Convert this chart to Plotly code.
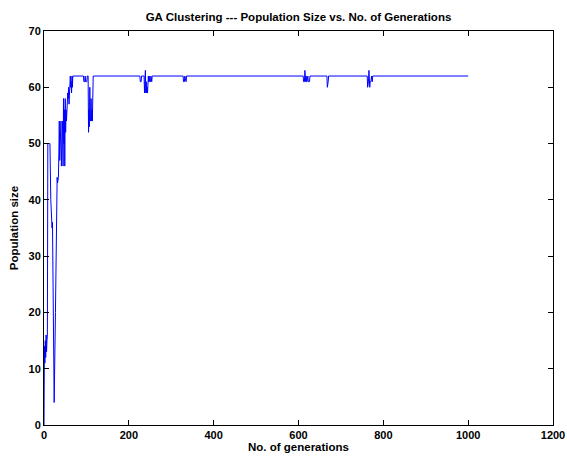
import plotly.graph_objects as go

# Key points of the population-size trace (generation, size)
generations = [
    0, 1, 2, 3, 4, 5, 6, 7, 8, 9, 12, 14, 16, 17, 18, 19, 20, 21, 22, 24, 27, 29, 31,
    32, 33, 34, 35, 36, 37, 38, 39, 40, 41, 42, 43, 44, 45, 46, 47, 48, 49, 50,
    51, 52, 53, 54, 55, 56, 57, 58, 59, 60, 61, 62, 63, 64, 65, 66, 67, 68, 70,
    93, 94, 96, 97, 98, 101, 102, 104, 105, 106, 107, 108, 109, 110, 111, 112,
    113, 114, 116, 118,
    226, 227, 229, 230, 236, 237, 239, 240, 241, 242, 243, 244, 246, 247, 248,
    249, 251, 252, 254, 255,
    328, 329, 331, 332, 335, 336,
    611, 612, 614, 615, 617, 618, 619, 620, 622, 623, 626, 627,
    667, 668, 670, 671,
    762, 763, 765, 766, 768, 769, 771, 772, 774, 775,
    1000,
]
pop_size = [
    0, 14, 11, 15, 12, 16, 13, 15, 16, 50, 50, 50, 40, 37, 38, 35, 36, 24, 21, 4, 20, 35, 44,
    43, 44, 44, 48, 54, 47, 52, 50, 54, 46, 52, 50, 54, 46, 58, 50, 56, 46, 58,
    52, 56, 54, 58, 56, 59, 58, 60, 57, 61, 59, 62, 60, 61, 59, 62, 60, 62, 62,
    62, 61, 61, 62, 61, 61, 62, 62, 52, 56, 53, 60, 55, 54, 58, 54,
    56, 54, 62, 62,
    62, 61, 61, 62, 62, 59, 63, 59, 61, 59, 60, 59, 62, 61, 62,
    61, 61, 62, 61, 62,
    62, 61, 61, 62, 61, 62,
    62, 61, 61, 63, 61, 62, 61, 61, 62, 61, 61, 62,
    62, 60, 61, 62,
    62, 60, 61, 63, 60, 61, 61, 62, 61, 62,
    62,
]
assert len(generations) == len(pop_size)

x_ticks = [0, 200, 400, 600, 800, 1000, 1200]
y_ticks = [0, 10, 20, 30, 40, 50, 60, 70]

font_family = "Liberation Sans, Arial, sans-serif"
bold_font = dict(family=font_family, size=11, color="black", weight="bold")
title_font = dict(family=font_family, size=11.5, color="black", weight="bold")

fig = go.Figure()
fig.add_trace(go.Scatter(
    x=generations, y=pop_size, mode="lines",
    line=dict(color="#0000FF", width=1),
    showlegend=False,
))

axis_common = dict(
    showline=True, linecolor="black", linewidth=1, mirror="allticks",
    ticks="inside", ticklen=5, tickcolor="black", tickwidth=1,
    showgrid=False, zeroline=False, automargin=False,
    tickfont=bold_font,
)

fig.update_layout(
    width=567, height=459,
    margin=dict(l=44, r=14, t=31, b=34),
    paper_bgcolor="white", plot_bgcolor="white",
    title=dict(
        text="GA Clustering --- Population Size vs. No. of Generations",
        font=title_font,
        x=0.5, xref="paper", xanchor="center", y=1 - 17 / 459, yanchor="middle",
    ),
    xaxis=dict(
        range=[0, 1200], tickvals=x_ticks,
        title=dict(text="No. of generations", standoff=2, font=title_font),
        **axis_common,
    ),
    yaxis=dict(
        range=[0, 70], tickvals=y_ticks,
        title=dict(text="Population size", standoff=7, font=title_font),
        **axis_common,
    ),
)

fig.write_html(
    "out.html",
    config={"displayModeBar": False},
    post_script="document.body.style.margin='0';document.body.style.overflow='hidden';",
)
